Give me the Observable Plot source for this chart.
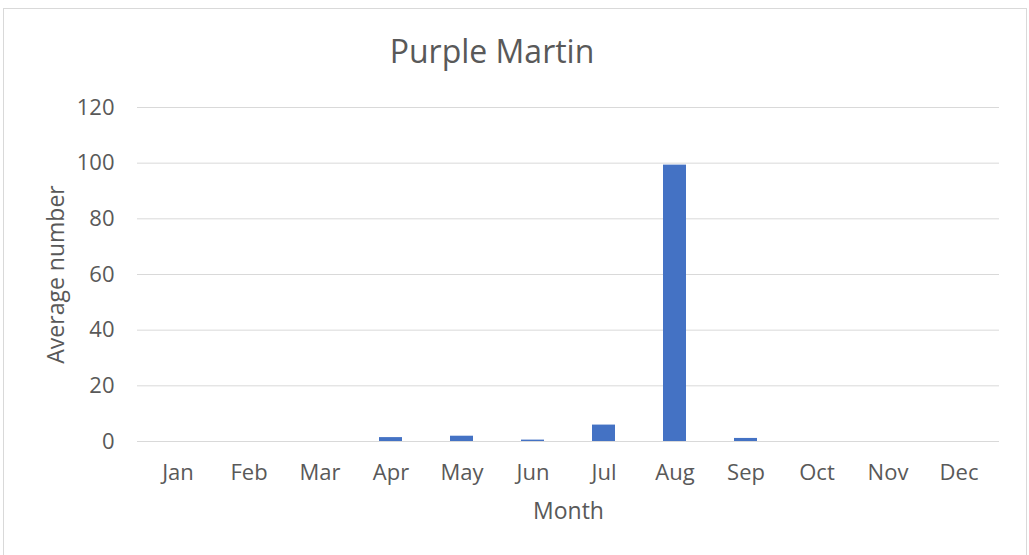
<!DOCTYPE html>
<html>
<head>
<meta charset="utf-8">
<script src="https://cdn.jsdelivr.net/npm/d3@7"></script>
<script src="https://cdn.jsdelivr.net/npm/@observablehq/plot@0.6"></script>
<style>
  html, body { margin: 0; padding: 0; background: #fff; overflow: hidden; }
  body { width: 1029px; height: 555px; position: relative; font-family: "Open Sans", sans-serif; color: #595959; }
  #frame { position: absolute; left: 3px; top: 8px; width: 1024px; height: 600px; border: 1px solid #d9d9d9; box-sizing: border-box; }
  #title { position: relative; height: 80px; width: 1029px; }
  #title span { position: absolute; left: 0; width: 984px; top: 35px; text-align: center; font-size: 32px; line-height: 1; color: #595959; }
  #chart { position: relative; }
</style>
</head>
<body>
<div id="frame"></div>
<div id="title"><span>Purple Martin</span></div>
<div id="chart"></div>
<script>
const months = ["Jan", "Feb", "Mar", "Apr", "May", "Jun", "Jul", "Aug", "Sep", "Oct", "Nov", "Dec"];
const averages = [0, 0, 0, 1.4, 1.9, 0.5, 5.9, 99.3, 1.1, 0, 0, 0];
const yTicks = [0, 20, 40, 60, 80, 100, 120];

const data = months.map((m, i) => ({month: m, value: averages[i]}));

const chart = Plot.plot({
  width: 1029,
  height: 475,
  marginTop: 27,
  marginBottom: 114,
  marginLeft: 137,
  marginRight: 30,
  style: {fontFamily: "Open Sans, sans-serif", color: "#595959", background: "transparent"},
  x: {domain: months, paddingInner: 0.68, paddingOuter: 0.34},
  y: {domain: [0, 120]},
  marks: [
    Plot.gridY(yTicks, {stroke: "#d9d9d9", strokeOpacity: 1, strokeWidth: 1}),
    Plot.barY(data, {x: "month", y: "value", fill: "#4472c4"}),
    Plot.axisX({tickSize: 0, tickPadding: 23, label: null, fontSize: 22, fill: "#595959"}),
    Plot.axisX([], {label: "Month", labelAnchor: "center", labelOffset: 77, fontSize: 23, fill: "#595959"}),
    Plot.axisY(yTicks, {tickSize: 0, tickPadding: 23, label: null, fontSize: 22, fill: "#595959"}),
    Plot.axisY([], {label: "Average number", labelAnchor: "center", labelOffset: 90, labelArrow: "none", fontSize: 23, fill: "#595959"})
  ]
});
document.getElementById("chart").appendChild(chart);
</script>
</body>
</html>
